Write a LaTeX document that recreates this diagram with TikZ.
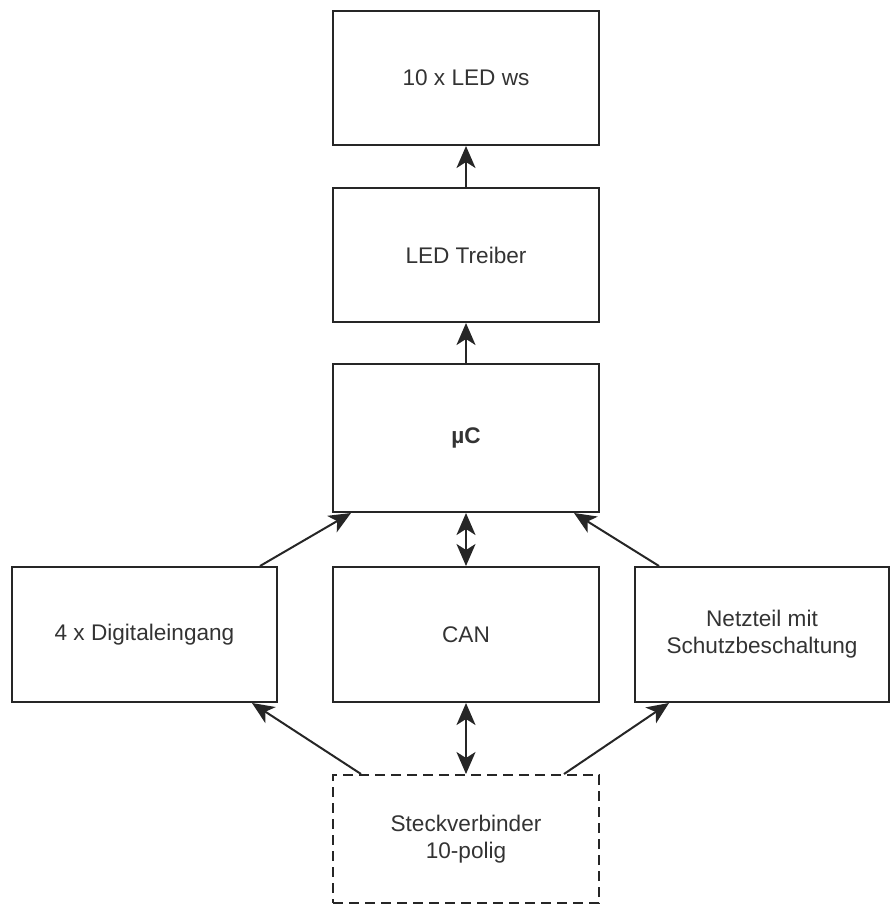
\documentclass[tikz,border=0pt]{standalone}
\usepackage{fontspec}
\setmainfont{Liberation Sans}
\usetikzlibrary{positioning,arrows.meta}

\begin{document}
\begin{tikzpicture}[x=1pt,y=1pt,->,>={Stealth[length=22pt,width=19pt,inset=6pt]},
    line width=2pt,draw=black!85,node distance=41pt,
    block/.style={rectangle,draw,inner sep=0pt,minimum width=266pt,minimum height=134pt,
      align=center,text=black!80,font=\fontsize{22.6}{27}\selectfont},
    plug/.style={block,dash pattern=on 10pt off 6pt}]

\useasboundingbox (0,0) rectangle (891,-908);

\node[block]                          (ws)      at (466,-78)  {10 x LED ws};
\node[block]                          (treiber) [below=41pt of ws]      {LED Treiber};
\node[block,minimum height=148pt]     (uc)      [below=40pt of treiber] {\textbf{µC}};
\node[block,minimum height=135pt]     (can)     [below=53pt of uc]      {CAN};
\node[block,minimum width=265pt,minimum height=135pt] (dig)  [left=54pt of can]  {4 x Digitaleingang};
\node[block,minimum width=254pt,minimum height=135pt] (netz) [right=34pt of can] {Netzteil mit\\Schutzbeschaltung};
\node[plug,minimum height=128pt]      (stecker) [below=71pt of can] {Steckverbinder\\10-polig};

% signal flow upwards
\draw (treiber) -- (ws);
\draw (uc) -- (treiber);
\draw[<->] (uc) -- (can);
\draw[<->] (can) -- (stecker);

% side inputs
\draw ([xshift=-18pt]dig.north east) -- ([xshift=19pt]uc.south west);
\draw ([xshift=25pt]netz.north west) -- ([xshift=-26pt]uc.south east);
\draw ([xshift=29pt]stecker.north west) -- ([xshift=-26pt]dig.south east);
\draw ([xshift=-36pt]stecker.north east) -- ([xshift=35pt]netz.south west);

\end{tikzpicture}
\end{document}
